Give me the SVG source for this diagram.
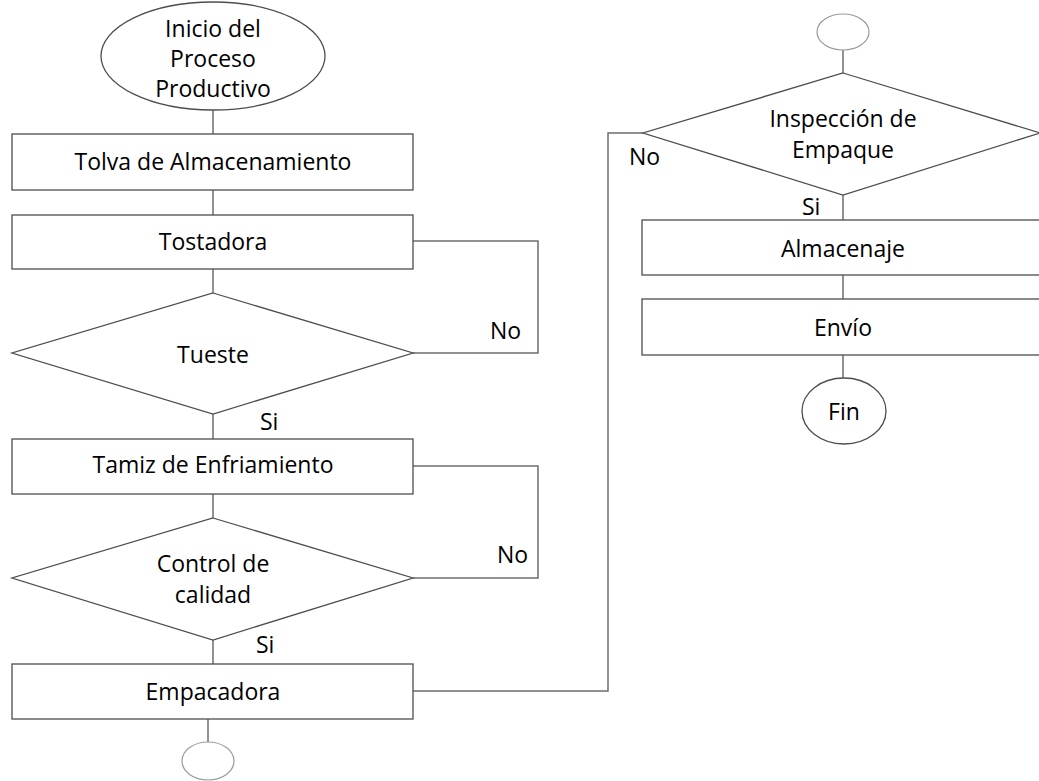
<svg xmlns="http://www.w3.org/2000/svg" width="1039" height="781" viewBox="0 0 1039 781">
<style>
.shape{fill:#ffffff;stroke:#4d4d4d;stroke-width:1.3}
.conn{fill:none;stroke:#6e6e6e;stroke-width:1.5}
.thin{fill:#ffffff;stroke:#9a9a9a;stroke-width:1.2}
text{font-family:"Open Sans","Noto Sans",sans-serif;font-size:23px;fill:#000000}
.c{text-anchor:middle}
</style>
<rect width="1039" height="781" fill="#ffffff"/>
<g id="connectors">
<line class="conn" x1="213" y1="110" x2="213" y2="134"/>
<line class="conn" x1="213" y1="190" x2="213" y2="215"/>
<line class="conn" x1="213" y1="269" x2="213" y2="293"/>
<line class="conn" x1="213" y1="414" x2="213" y2="439"/>
<line class="conn" x1="213" y1="494" x2="213" y2="518"/>
<line class="conn" x1="213" y1="640" x2="213" y2="664"/>
<line class="conn" x1="208" y1="719" x2="208" y2="742"/>
<polyline class="conn" points="413,241 538,241 538,353 413,353"/>
<polyline class="conn" points="413,466 538,466 538,578 413,578"/>
<polyline class="conn" points="413,691 608,691 608,133 643,133"/>
<line class="conn" x1="843" y1="50" x2="843" y2="73"/>
<line class="conn" x1="843" y1="195" x2="843" y2="220"/>
<line class="conn" x1="843" y1="275" x2="843" y2="299"/>
<line class="conn" x1="843" y1="355" x2="843" y2="378"/>
</g>
<g id="inicio">
<ellipse class="shape" cx="213" cy="56" rx="112" ry="54"/>
<text class="c" x="213" y="37">Inicio del</text>
<text class="c" x="213" y="67">Proceso</text>
<text class="c" x="213" y="97">Productivo</text>
</g>
<g id="tolva">
<rect class="shape" x="12" y="134" width="401" height="56"/>
<text class="c" x="213" y="170">Tolva de Almacenamiento</text>
</g>
<g id="tostadora">
<rect class="shape" x="12" y="215" width="401" height="54"/>
<text class="c" x="213" y="250">Tostadora</text>
</g>
<g id="tueste">
<polygon class="shape" points="213,293 413,353 213,414 12,353"/>
<text class="c" x="213" y="363">Tueste</text>
<text x="490" y="339">No</text>
<text x="260" y="430">Si</text>
</g>
<g id="tamiz">
<rect class="shape" x="12" y="439" width="401" height="55"/>
<text class="c" x="213" y="473">Tamiz de Enfriamiento</text>
</g>
<g id="control">
<polygon class="shape" points="213,518 413,578 213,640 12,578"/>
<text class="c" x="213" y="572">Control de</text>
<text class="c" x="213" y="603">calidad</text>
<text x="497" y="563">No</text>
<text x="256" y="653">Si</text>
</g>
<g id="empacadora">
<rect class="shape" x="12" y="664" width="401" height="55"/>
<text class="c" x="213" y="700">Empacadora</text>
</g>
<g id="conector-a">
<ellipse class="thin" cx="208" cy="761" rx="26" ry="19"/>
</g>
<g id="conector-b">
<ellipse class="thin" cx="843" cy="32" rx="26" ry="18"/>
</g>
<g id="inspeccion">
<polygon class="shape" points="843,73 1040,133 843,195 643,133"/>
<text class="c" x="843" y="127">Inspección de</text>
<text class="c" x="843" y="158">Empaque</text>
<text x="629" y="165">No</text>
<text x="802" y="215">Si</text>
</g>
<g id="almacenaje">
<rect class="shape" x="642" y="220" width="400" height="55"/>
<text class="c" x="843" y="257">Almacenaje</text>
</g>
<g id="envio">
<rect class="shape" x="642" y="299" width="400" height="56"/>
<text class="c" x="843" y="336">Envío</text>
</g>
<g id="fin">
<ellipse class="shape" cx="844" cy="411" rx="42" ry="33"/>
<text class="c" x="844" y="420">Fin</text>
</g>
</svg>
